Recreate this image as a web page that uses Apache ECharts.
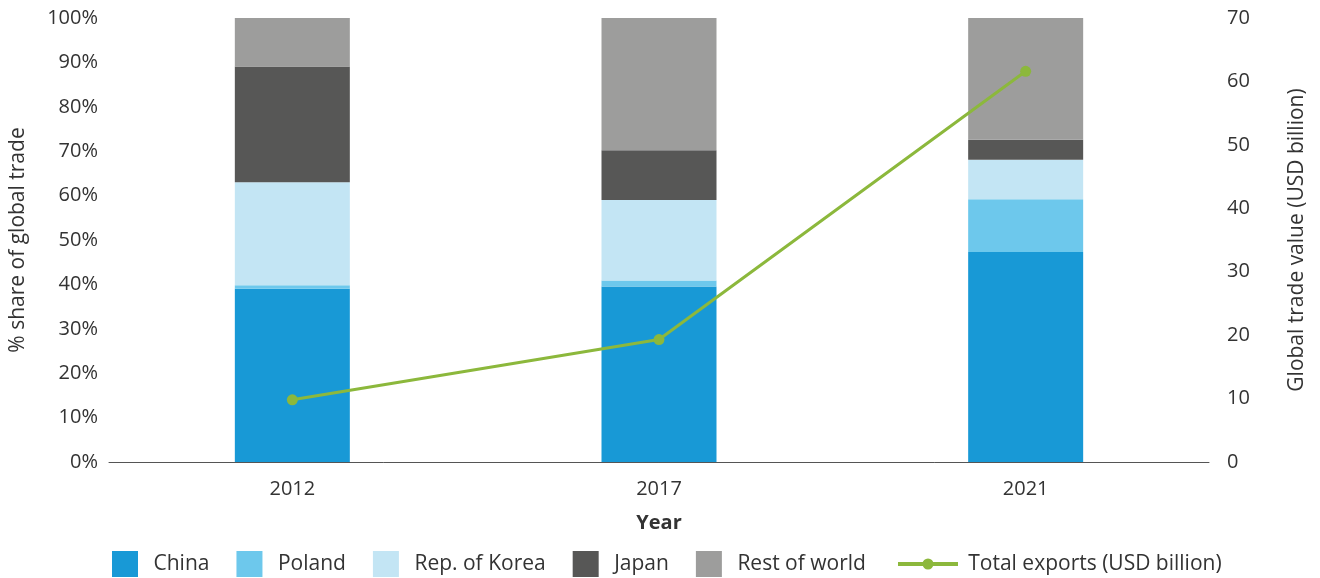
<!DOCTYPE html>
<html>
<head>
<meta charset="utf-8">
<script src="https://cdn.jsdelivr.net/npm/echarts@6/dist/echarts.min.js"></script>
<style>html,body{margin:0;padding:0;background:#fff;}#chart{width:1320px;height:578px;}</style>
</head>
<body>
<div id="chart"></div>
<script>
const years = ['2012', '2017', '2021'];
const china = [39.0, 39.5, 47.3];
const poland = [0.8, 1.4, 11.9];
const korea = [23.2, 18.1, 8.9];
const japan = [26.1, 11.2, 4.5];
const restOfWorld = [10.9, 29.8, 27.4];
const totalExports = [9.8, 19.3, 61.6];
const leftTicks = [0, 10, 20, 30, 40, 50, 60, 70, 80, 90, 100];
const rightTicks = [0, 10, 20, 30, 40, 50, 60, 70];

const FONT = 'Open Sans';
const TXT = '#333333';
const GREEN = '#8cb83c';
const chart = echarts.init(document.getElementById('chart'));
function barSeries(name, data, color) {
  return { name, type: 'bar', stack: 'share', data, barWidth: 115, itemStyle: { color }, yAxisIndex: 0 };
}
chart.setOption({
  animation: false,
  textStyle: { fontFamily: FONT },
  grid: { left: 108, right: 111, top: 18, bottom: 116, containLabel: false },
  legend: [
    {
      top: 551, left: 112, padding: 0, itemGap: 27, itemWidth: 26, itemHeight: 26,
      formatter: n => '\u2002' + n,
      textStyle: { fontFamily: FONT, fontSize: 21, color: TXT },
      data: [
        { name: 'China', icon: 'rect' },
        { name: 'Poland', icon: 'rect' },
        { name: 'Rep. of Korea', icon: 'rect' },
        { name: 'Japan', icon: 'rect' },
        { name: 'Rest of world', icon: 'rect' }
      ]
    },
    {
      top: 551, left: 898, padding: 0, itemWidth: 60, itemHeight: 26,
      formatter: n => '\u2005' + n,
      textStyle: { fontFamily: FONT, fontSize: 21, color: TXT },
      data: [{
        name: 'Total exports (USD billion)',
        icon: 'path://M0,11 L60,11 L60,15 L0,15 Z M24.5,13 A5.5,5.5 0 1 1 35.5,13 A5.5,5.5 0 1 1 24.5,13 Z M0,0 L0.01,0 L0.01,0.01 Z M0,26 L0.01,26 L0.01,25.99 Z',
        itemStyle: { color: GREEN, borderWidth: 0 }
      }]
    }
  ],
  xAxis: {
    type: 'category', data: years,
    name: 'Year', nameLocation: 'middle', nameGap: 51,
    nameTextStyle: { fontFamily: FONT, fontSize: 20, fontWeight: 'bold', color: TXT },
    axisLine: { lineStyle: { color: '#555', width: 1 } },
    axisTick: { show: false },
    axisLabel: { fontSize: 20, color: TXT, margin: 17 }
  },
  yAxis: [
    {
      type: 'value', min: leftTicks[0], max: leftTicks[leftTicks.length - 1], interval: 10,
      name: '% share of global trade', nameLocation: 'middle', nameRotate: 90, nameGap: 80,
      nameTextStyle: { fontFamily: FONT, fontSize: 21, color: TXT },
      axisLine: { show: false }, axisTick: { show: false }, splitLine: { show: false },
      axisLabel: { fontSize: 20, color: TXT, margin: 11, formatter: v => v + '%' }
    },
    {
      type: 'value', min: rightTicks[0], max: rightTicks[rightTicks.length - 1], interval: 10,
      name: 'Global trade value (USD billion)', nameLocation: 'middle', nameRotate: 90, nameGap: 78,
      nameTextStyle: { fontFamily: FONT, fontSize: 21, color: TXT },
      axisLine: { show: false }, axisTick: { show: false }, splitLine: { show: false },
      axisLabel: { fontSize: 20, color: TXT, margin: 18 }
    }
  ],
  series: [
    barSeries('China', china, '#1899d6'),
    barSeries('Poland', poland, '#6dc8ec'),
    barSeries('Rep. of Korea', korea, '#c3e5f4'),
    barSeries('Japan', japan, '#575756'),
    barSeries('Rest of world', restOfWorld, '#9d9d9c'),
    {
      name: 'Total exports (USD billion)', type: 'line', yAxisIndex: 1, data: totalExports,
      symbol: 'circle', symbolSize: 11,
      lineStyle: { color: GREEN, width: 3 }, itemStyle: { color: GREEN }
    }
  ]
});
</script>
</body>
</html>
